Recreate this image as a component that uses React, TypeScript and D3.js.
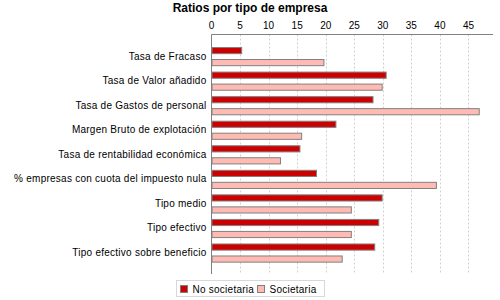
import { useEffect, useRef } from 'react';
import * as d3 from 'd3';

const categories = [
  'Tasa de Fracaso',
  'Tasa de Valor añadido',
  'Tasa de Gastos de personal',
  'Margen Bruto de explotación',
  'Tasa de rentabilidad económica',
  '% empresas con cuota del impuesto nula',
  'Tipo medio',
  'Tipo efectivo',
  'Tipo efectivo sobre beneficio',
];
const seriesNames = ['No societaria', 'Societaria'];
const noSocietaria = [5.2, 30.5, 28.2, 21.7, 15.4, 18.3, 29.8, 29.2, 28.5];
const societaria = [19.6, 29.8, 46.8, 15.7, 12.0, 39.3, 24.4, 24.4, 22.8];
const xTicks = [0, 5, 10, 15, 20, 25, 30, 35, 40, 45];
const colors = ['#cc0000', '#ffbbb3'];

export default function App() {
  const svgRef = useRef<SVGSVGElement>(null);

  useEffect(() => {
    const width = 500;
    const height = 300;
    const left = 211.5, right = 493, top = 34.5, bottom = 274;
    const font = '"Liberation Sans", Arial, sans-serif';

    const svg = d3.select(svgRef.current)
      .attr('width', width)
      .attr('height', height);
    svg.selectAll('*').remove();

    const xScale = d3.scaleLinear().domain([0, 49.3]).range([left, right]);
    const yScale = d3.scaleBand<string>()
      .domain(categories)
      .range([top, bottom])
      .paddingInner(0.267)
      .paddingOuter(0.51);
    const inner = d3.scaleBand<string>()
      .domain(seriesNames)
      .range([0, yScale.bandwidth()])
      .paddingInner(0.48);

    svg.append('text')
      .attr('x', 250)
      .attr('y', 11.5)
      .attr('text-anchor', 'middle')
      .style('font', `bold 12px ${font}`)
      .text('Ratios por tipo de empresa');

    // dashed grid
    svg.append('g')
      .selectAll('line')
      .data(xTicks.filter(t => t > 0))
      .join('line')
      .attr('x1', d => Math.round(xScale(d)) + 0.5)
      .attr('x2', d => Math.round(xScale(d)) + 0.5)
      .attr('y1', top)
      .attr('y2', bottom)
      .attr('stroke', '#d0d0d0')
      .attr('stroke-dasharray', '2,2');

    // top axis
    svg.append('line')
      .attr('x1', left).attr('x2', right)
      .attr('y1', top).attr('y2', top)
      .attr('stroke', '#808080');
    svg.append('line')
      .attr('x1', left).attr('x2', left)
      .attr('y1', top).attr('y2', bottom)
      .attr('stroke', '#808080');

    svg.append('g')
      .selectAll('text')
      .data(xTicks)
      .join('text')
      .attr('x', d => xScale(d))
      .attr('y', 28.5)
      .attr('text-anchor', 'middle')
      .style('font', `10px ${font}`)
      .text(d => d);

    const rows = categories.map((c, i) => ({ c, vals: [noSocietaria[i], societaria[i]] }));

    const groups = svg.append('g')
      .selectAll('g')
      .data(rows)
      .join('g')
      .attr('transform', d => `translate(0,${yScale(d.c)})`);

    groups.selectAll('rect')
      .data(d => d.vals.map((v, j) => ({ v, s: seriesNames[j], j })))
      .join('rect')
      .attr('x', left + 0.5)
      .attr('y', d => Math.round(inner(d.s)!) + 0.5)
      .attr('width', d => xScale(d.v) - left)
      .attr('height', inner.bandwidth())
      .attr('fill', d => colors[d.j])
      .attr('stroke', '#808080')
      .attr('stroke-width', 1);

    svg.append('g')
      .selectAll('text')
      .data(categories)
      .join('text')
      .attr('x', 206.5)
      .attr('y', d => yScale(d)! + yScale.bandwidth() / 2)
      .attr('dy', '0.35em')
      .attr('text-anchor', 'end')
      .style('font', `10px ${font}`)
      .style('letter-spacing', '0.25px')
      .text(d => d);

    // legend
    const legend = svg.append('g');
    legend.append('rect')
      .attr('x', 176.5).attr('y', 280.5)
      .attr('width', 148).attr('height', 16)
      .attr('fill', 'white')
      .attr('stroke', '#d8d8d8');
    const legendX = [180.5, 257.5];
    seriesNames.forEach((name, j) => {
      legend.append('rect')
        .attr('x', legendX[j]).attr('y', 285.5)
        .attr('width', 7).attr('height', 7)
        .attr('fill', colors[j])
        .attr('stroke', '#808080');
      legend.append('text')
        .attr('x', legendX[j] + 12)
        .attr('y', 292.5)
        .style('font', `10px ${font}`)
        .style('letter-spacing', '0.25px')
        .text(name);
    });
  }, []);

  return (
    <svg ref={svgRef} style={{ position: 'absolute', left: 0, top: 0 }}></svg>
  );
}
